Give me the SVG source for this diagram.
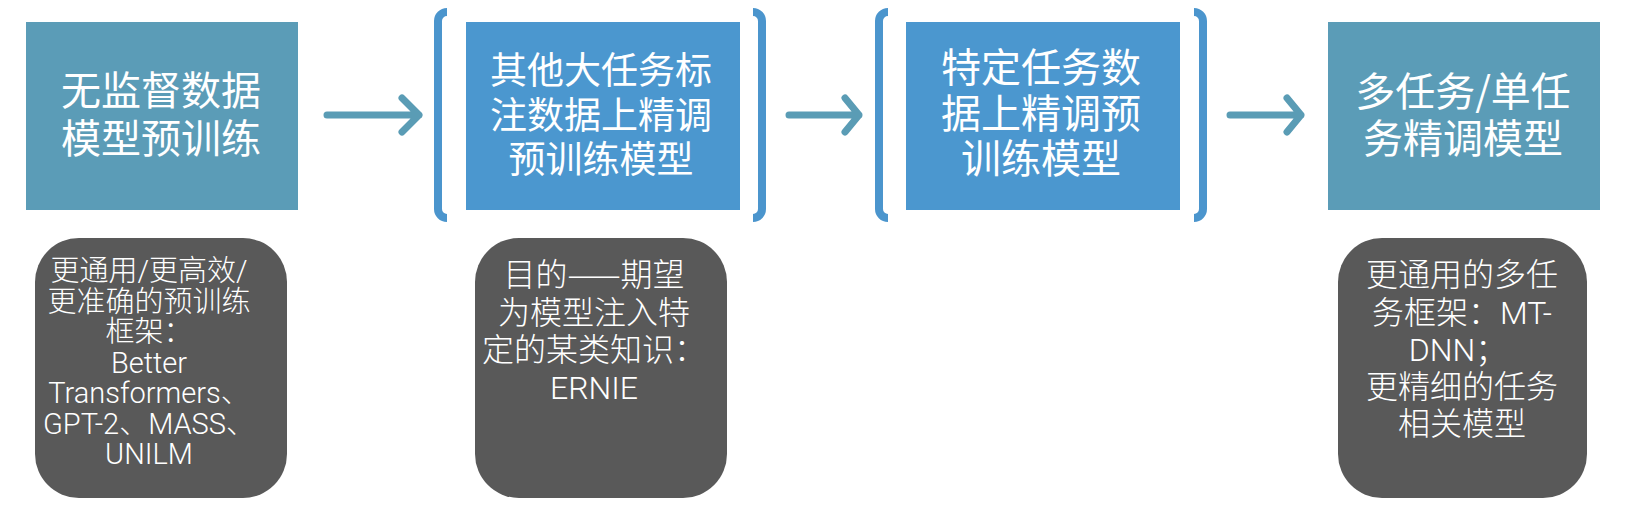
<svg xmlns="http://www.w3.org/2000/svg" width="1626" height="514" viewBox="0 0 1626 514">
<defs>
<style>
.teal{fill:#5b9cb7}
.blue{fill:#4b97cf}
.dark{fill:#595959}
.title{font-family:"Noto Sans CJK SC","Noto Sans",sans-serif;font-weight:400;fill:#ffffff;text-anchor:middle}
.note{font-family:Roboto,"Noto Sans CJK SC",sans-serif;font-weight:300;fill:#ffffff;text-anchor:middle}
.cjk{font-family:"Noto Sans CJK SC",sans-serif}
.arrow{fill:none;stroke:#5a9cb5;stroke-width:7;stroke-linecap:round;stroke-linejoin:round}
.bracket{fill:none;stroke:#4b95cd;stroke-width:8;stroke-linecap:butt}
</style>
</defs>
<rect width="1626" height="514" fill="#ffffff"/>
<g id="node-pretrain">
<rect class="teal" x="26" y="22" width="272" height="188"/>
<text class="title" font-size="40"><tspan x="161" y="105">无监督数据</tspan><tspan x="161" y="153">模型预训练</tspan></text>
</g>
<g id="node-other-task">
<rect class="blue" x="466" y="22" width="274" height="188"/>
<text class="title" font-size="37"><tspan x="601" y="84">其他大任务标</tspan><tspan x="601" y="129">注数据上精调</tspan><tspan x="601" y="173">预训练模型</tspan></text>
</g>
<g id="node-specific-task">
<rect class="blue" x="906" y="22" width="274" height="188"/>
<text class="title" font-size="40"><tspan x="1041" y="82">特定任务数</tspan><tspan x="1041" y="128">据上精调预</tspan><tspan x="1041" y="173">训练模型</tspan></text>
</g>
<g id="node-finetune">
<rect class="teal" x="1328" y="22" width="272" height="188"/>
<text class="title" font-size="40"><tspan x="1463" y="106">多任务/单任</tspan><tspan x="1463" y="153">务精调模型</tspan></text>
</g>
<g id="brackets">
<path class="bracket" d="M447 12 A9 9 0 0 0 438 21 L438 209 A9 9 0 0 0 447 218"/>
<path class="bracket" d="M753 12 A9 9 0 0 1 762 21 L762 209 A9 9 0 0 1 753 218"/>
<path class="bracket" d="M888 12 A9 9 0 0 0 879 21 L879 209 A9 9 0 0 0 888 218"/>
<path class="bracket" d="M1194 12 A9 9 0 0 1 1203 21 L1203 209 A9 9 0 0 1 1194 218"/>
</g>
<g id="note-pretrain">
<rect class="dark" x="35" y="238" width="252" height="260" rx="44" ry="44"/>
<text class="note" font-size="29"><tspan x="149" y="281">更通用/更高效/</tspan><tspan x="149" y="311.5">更准确的预训练</tspan><tspan x="149" y="342">框架：</tspan><tspan x="149" y="372.5">Better</tspan><tspan x="149" y="403">Transformers、</tspan><tspan x="149" y="433.5">GPT-2、MASS、</tspan><tspan x="149" y="464">UNILM</tspan></text>
</g>
<g id="note-other-task">
<rect class="dark" x="475" y="238" width="252" height="260" rx="44" ry="44"/>
<text class="note" font-size="32"><tspan x="594" y="286">目的<tspan class="cjk">——</tspan>期望</tspan><tspan x="594" y="323.5">为模型注入特</tspan><tspan x="594" y="361">定的某类知识：</tspan><tspan x="594" y="398.5">ERNIE</tspan></text>
</g>
<g id="note-finetune">
<rect class="dark" x="1338" y="238" width="249" height="260" rx="44" ry="44"/>
<text class="note" font-size="32"><tspan x="1462" y="286">更通用的多任</tspan><tspan x="1462" y="323.5">务框架：MT-</tspan><tspan x="1458" y="361">DNN；</tspan><tspan x="1462" y="398">更精细的任务</tspan><tspan x="1462" y="435">相关模型</tspan></text>
</g>
<g id="connectors">
<path class="arrow" d="M327 115 L419 115 M402 98 L419 115 L402 132"/>
<path class="arrow" d="M789 115 L859 115 M845 98 L859 115 L845 132"/>
<path class="arrow" d="M1230 115 L1301 115 M1287 98 L1301 115 L1287 132"/>
</g>
</svg>
